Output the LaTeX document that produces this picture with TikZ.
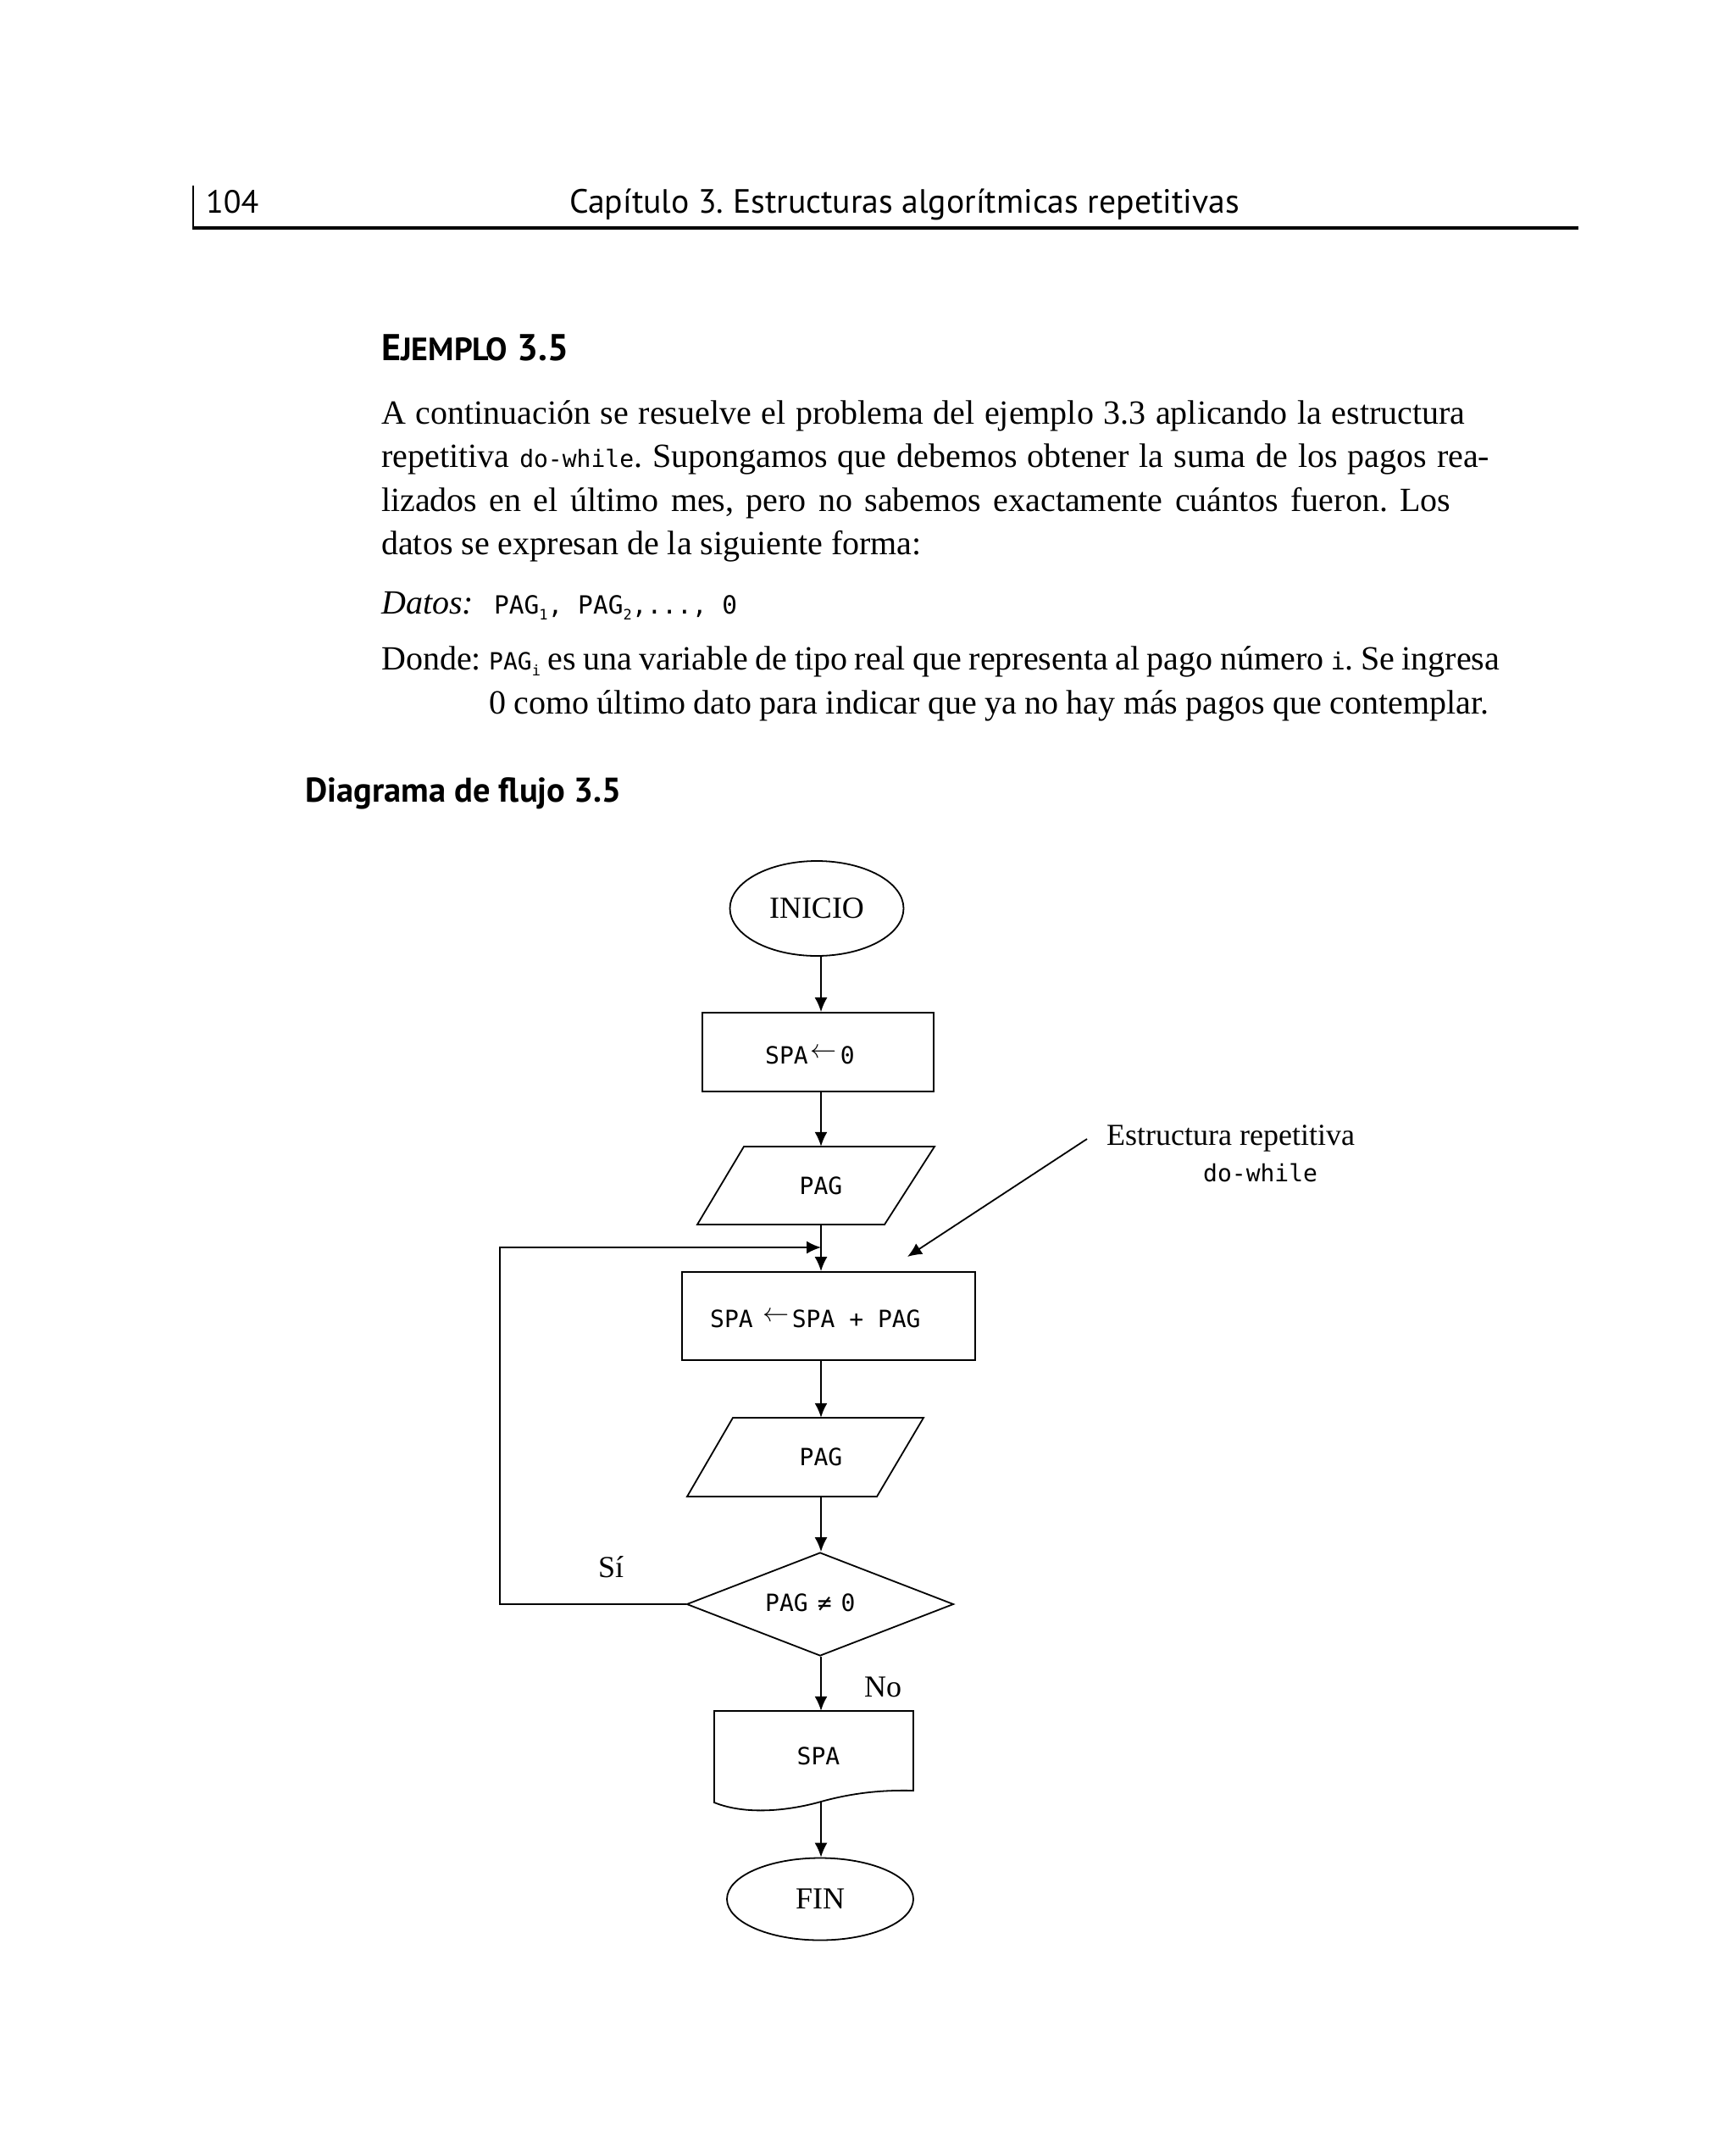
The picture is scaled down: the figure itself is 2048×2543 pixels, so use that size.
\documentclass[tikz,border=0pt]{standalone}
\usepackage{fontspec}
\setmainfont{Liberation Serif}
\newfontfamily\hsans{PT Sans}
\newfontfamily\monof{DejaVu Sans Mono}
\usetikzlibrary{shapes.geometric,arrows.meta}
\frenchspacing
\newcommand\fs[1]{\fontsize{#1}{#1}\selectfont}
\newcommand\mtt[1]{{\monof\fs{28}#1}}
\newcommand\subs[1]{\raisebox{-7pt}{\fs{17}#1}}
\newcommand\larr{\raisebox{7pt}{\scalebox{1.25}{\fs{28}$\leftarrow$}}}
\newcommand\jline[2]{\makebox[#1pt][s]{#2}}
\begin{document}
\begin{tikzpicture}[x=1pt,y=-1pt,
  txt/.style={inner sep=0pt, anchor=base west},
  ctx/.style={inner sep=0pt, anchor=base},
  arr/.style={draw, line width=1.8pt, -{Latex[length=17pt,width=15pt]}},
  shp/.style={draw, line width=1.8pt}]
\path[use as bounding box] (0,0) rectangle (2048,2543);
% header
\draw[line width=1.5pt] (228,219) -- (228,270);
\draw[line width=4.5pt] (227,269) -- (1863,269);
\node[txt] (pg) at (243,251) {\hsans\fs{38}104};
\node[txt] (hd) at (672,251) {\hsans\fs{39.7}Capítulo 3. Estructuras algorítmicas repetitivas};
% title
\node[txt] (ej) at (450,425) {\hsans\bfseries\fs{44}E\fs{38}JEMPLO\fs{44} 3.5};
% paragraph
\node[txt] (l1) at (450,500) {\fs{40}\jline{1279}{A continuación se resuelve el problema del ejemplo 3.3 aplicando la estructura}};
\node[txt] (l2) at (450,551) {\fs{40}\jline{1308}{repetitiva \mtt{do-while}. Supongamos que debemos obtener la suma de los pagos rea-}};
\node[txt] (l3) at (450,603) {\fs{40}\jline{1262}{lizados en el último mes, pero no sabemos exactamente cuántos fueron. Los}};
\node[txt] (l4) at (450,654) {\fs{40}datos se expresan de la siguiente forma:};
\node[txt] (l5) at (450,724) {\fs{40}\itshape Datos:};
\node[txt] (l5b) at (583,724) {{\monof\fs{29.5}PAG\subs{1}, PAG\subs{2},..., 0}};
\node[txt] (l6) at (450,790) {\fs{40}Donde:};
\node[txt] (l6b) at (577,790) {\fs{40}\jline{1193}{\mtt{PAG\subs{i}} es una variable de tipo real que representa al pago número \mtt{i}. Se ingresa}};
\node[txt] (l7) at (577,842) {\fs{40}\jline{1180}{0 como último dato para indicar que ya no hay más pagos que contemplar.}};
\node[txt] (dg) at (360,946) {\hsans\bfseries\fs{40.5}Diagrama de flujo 3.5};
% flowchart
\coordinate (xl) at (969,0);
\node[shp, ellipse, minimum width=205pt, minimum height=112pt, inner sep=0pt] (ini) at (964,1072) {\fs{36}INICIO};
\node[shp, rectangle, minimum width=273pt, minimum height=93pt, inner sep=0pt] (r1) at (965.5,1241.5) {};
\node[txt] (r1t) at (903,1255) {\mtt{SPA\hspace{3pt}\larr\hspace{4pt}0}};
\draw[shp] (878,1353) -- (1103,1353) -- (1044,1445) -- (823,1445) -- cycle;
\node[inner sep=0pt, minimum height=92pt] (p1) at (969,1399) {\mtt{PAG}};
\node[shp, rectangle, minimum width=346pt, minimum height=104pt, inner sep=0pt] (r2) at (978,1553) {};
\node[txt] (r2t) at (838,1566) {\mtt{SPA\hspace{12pt}\larr\hspace{3pt}SPA + PAG}};
\draw[shp] (865,1673) -- (1090,1673) -- (1035,1766) -- (811,1766) -- cycle;
\node[inner sep=0pt, minimum height=93pt] (p2) at (969,1719.5) {\mtt{PAG}};
\node[shp, diamond, minimum width=315pt, minimum height=122pt, inner sep=0pt] (d) at (968,1893) {};
\node[txt] (dt) at (903,1901) {\mtt{PAG\hspace{11pt}≠\hspace{11pt}0}};
\draw[shp] (843,2019) -- (1078,2019) -- (1078,2113) .. controls (1040,2112) and (1005,2116) .. (969,2126) .. controls (930,2137) and (880,2142) .. (843,2127) -- cycle;
\node[inner sep=0pt, minimum height=107pt] (doc) at (966,2072.5) {\mtt{SPA}};
\node[shp, ellipse, minimum width=220pt, minimum height=97pt, inner sep=0pt] (fin) at (968,2241) {\fs{36}FIN};
% labels
\node[txt] (si) at (706,1861) {\fs{36}Sí};
\node[txt] (no) at (1020,2002) {\fs{36}No};
\node[txt] (est) at (1306,1351) {\fs{36}Estructura repetitiva};
\node[txt] (dw) at (1420,1394) {\mtt{do-while}};
% connectors
\draw[arr] (ini.south -| xl) -- (r1.north -| xl);
\draw[arr] (r1.south -| xl) -- (p1.north -| xl);
\draw[arr] (p1.south -| xl) -- (r2.north -| xl);
\draw[arr] (r2.south -| xl) -- (p2.north -| xl);
\draw[arr] (p2.south -| xl) -- (d.north -| xl);
\draw[arr] (d.south -| xl) -- (doc.north -| xl);
\draw[arr] (doc.south -| xl) -- (fin.north -| xl);
\coordinate (lc) at (590,1472);
\coordinate (lt) at (969,1472);
\draw[arr] (d.west) -| (lc) -- (lt);
\coordinate (an1) at (1283,1344);
\coordinate (an2) at (1071,1483);
\draw[arr] (an1) -- (an2);
\end{tikzpicture}
\end{document}
